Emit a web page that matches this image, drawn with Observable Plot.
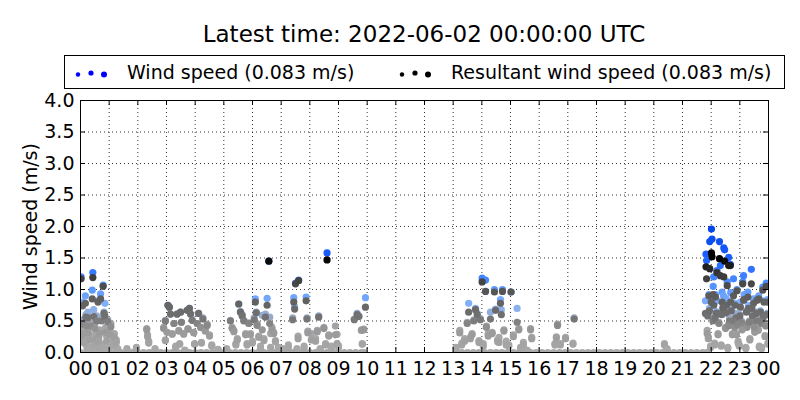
<!DOCTYPE html>
<html>
<head>
<meta charset="utf-8">
<script src="https://cdn.jsdelivr.net/npm/d3@7"></script>
<script src="https://cdn.jsdelivr.net/npm/@observablehq/plot@0.6"></script>
<style>
  body { margin: 0; background: #fff; font-family: "DejaVu Sans", sans-serif; color: #000; }
  #wrap { position: relative; width: 800px; height: 400px; overflow: hidden; }
  #title { position: absolute; left: 0; top: 20px; width: 848px; text-align: center; font-size: 23px; line-height: 28px; z-index: 2; }
  #legend { position: absolute; left: 64px; top: 55px; width: 719px; height: 32px; border: 1px solid #000; background: #fff; z-index: 2; }
  #legend .lab { position: absolute; top: 5px; font-size: 19px; line-height: 22px; white-space: nowrap; }
  #legend svg { position: absolute; top: 0; }
  #chart { position: absolute; left: 0; top: 75px; z-index: 1; }
</style>
</head>
<body>
<div id="wrap">
  <div id="title">Latest time: 2022-06-02 00:00:00 UTC</div>
  <div id="legend"></div>
  <div id="chart"></div>
</div>
<script>
// hour of day, wind speed and resultant wind speed (m/s), one entry per sample
const hours = [
  0.02, 0.05, 0.07, 0.09, 0.11, 0.13, 0.17, 0.19, 0.21, 0.23,
  0.26, 0.28, 0.31, 0.33, 0.36, 0.41, 0.43, 0.46, 0.48, 0.50,
  0.53, 0.56, 0.58, 0.61, 0.64, 0.67, 0.70, 0.73, 0.76, 0.79,
  0.82, 0.85, 0.88, 0.91, 0.95, 0.98, 1.02, 1.06, 1.12, 1.18,
  1.25, 1.30, 1.62, 1.95, 2.31, 2.34, 2.38, 2.60, 2.90, 2.96,
  2.96, 3.02, 3.05, 3.10, 3.14, 3.20, 3.26, 3.32, 3.37, 3.43,
  3.46, 3.49, 3.52, 3.60, 3.64, 3.72, 3.75, 3.80, 3.84, 3.90,
  3.95, 3.98, 4.07, 4.12, 4.19, 4.22, 4.27, 4.35, 4.42, 4.50,
  4.58, 4.80, 5.10, 5.23, 5.29, 5.35, 5.42, 5.47, 5.52, 5.58,
  5.64, 5.70, 5.76, 5.81, 5.87, 5.93, 6.00, 6.06, 6.10, 6.13,
  6.16, 6.22, 6.28, 6.34, 6.40, 6.45, 6.51, 6.57, 6.60, 6.63,
  6.68, 6.74, 6.80, 6.90, 7.05, 7.25, 7.40, 7.44, 7.47, 7.50,
  7.55, 7.59, 7.61, 7.80, 7.87, 7.90, 7.93, 8.05, 8.20, 8.26,
  8.31, 8.36, 8.49, 8.55, 8.60, 8.66, 8.75, 8.89, 8.95, 9.00,
  9.55, 9.65, 9.71, 9.80, 9.83, 9.88, 9.94, 13.10, 13.23, 13.30,
  13.40, 13.49, 13.54, 13.60, 13.66, 13.72, 13.78, 13.84, 13.90, 13.95,
  14.01, 14.05, 14.13, 14.16, 14.22, 14.30, 14.36, 14.44, 14.48, 14.55,
  14.60, 14.65, 14.68, 14.72, 14.77, 14.85, 14.94, 15.02, 15.10, 15.23,
  15.29, 15.35, 15.45, 15.58, 15.70, 15.74, 16.55, 16.60, 16.64, 16.74,
  16.92, 17.18, 17.22, 20.37, 20.46, 21.80, 21.82, 21.84, 21.86, 21.88,
  21.90, 21.92, 21.95, 21.98, 22.01, 22.03, 22.06, 22.09, 22.12, 22.15,
  22.18, 22.20, 22.24, 22.29, 22.32, 22.35, 22.38, 22.41, 22.44, 22.47,
  22.50, 22.53, 22.56, 22.58, 22.61, 22.64, 22.67, 22.70, 22.74, 22.78,
  22.82, 22.86, 22.90, 22.94, 22.98, 23.02, 23.06, 23.10, 23.13, 23.17,
  23.21, 23.25, 23.30, 23.35, 23.40, 23.44, 23.48, 23.52, 23.56, 23.60,
  23.64, 23.68, 23.72, 23.76, 23.80, 23.84, 23.88, 23.92, 23.95, 23.98,
  21.94, 22.00, 22.07, 22.14, 22.22, 22.27, 22.37, 22.43, 22.52, 22.60,
  22.68, 22.76, 22.84, 22.92, 23.00, 23.08, 23.15, 23.23, 23.33, 23.42,
  23.50, 23.58, 23.66, 23.74, 23.82, 23.90, 23.97, 22.88, 23.28, 23.70
];
const windSpeed = [
  1.20, 0.30, 0.80, 0.52, 0.36, 0.20, 0.90, 0.60, 0.48, 0.10,
  0.64, 0.40, 0.26, 0.08, 0.46, 0.99, 1.27, 0.68, 0.14, 0.44,
  0.30, 0.58, 0.16, 0.82, 0.24, 0.36, 0.93, 0.55, 0.12, 1.07,
  0.64, 0.78, 0.40, 0.26, 0.52, 0.08, 0.34, 0.46, 0.18, 0.30,
  0.20, 0.06, 0.06, 0.08, 0.38, 0.28, 0.18, 0.06, 0.40, 0.51,
  0.20, 0.32, 0.75, 0.72, 0.61, 0.30, 0.46, 0.10, 0.61, 0.35,
  0.14, 0.64, 0.48, 0.30, 0.04, 0.67, 0.38, 0.70, 0.61, 0.51,
  0.32, 0.14, 0.46, 0.62, 0.40, 0.16, 0.55, 0.35, 0.45, 0.28,
  0.12, 0.05, 0.06, 0.51, 0.40, 0.35, 0.14, 0.22, 0.77, 0.65,
  0.60, 0.51, 0.30, 0.14, 0.47, 0.30, 0.18, 0.55, 0.85, 0.64,
  0.46, 0.26, 0.10, 0.59, 0.22, 0.61, 0.86, 1.45, 0.56, 0.30,
  0.40, 0.32, 0.19, 0.08, 0.06, 0.12, 0.55, 0.87, 0.73, 1.10,
  0.06, 0.26, 1.15, 0.10, 0.88, 0.55, 0.34, 0.30, 0.22, 0.35,
  0.58, 0.06, 0.40, 0.14, 1.58, 0.28, 0.10, 0.42, 0.29, 0.11,
  0.53, 0.62, 0.58, 0.36, 0.14, 0.37, 0.87, 0.08, 0.35, 0.15,
  0.22, 0.48, 0.78, 0.24, 0.30, 0.52, 0.70, 0.62, 0.19, 0.54,
  1.18, 0.14, 1.15, 0.42, 0.30, 0.64, 0.32, 1.00, 0.69, 0.20,
  0.24, 0.84, 0.68, 1.00, 0.36, 0.18, 0.12, 0.96, 0.28, 0.70,
  0.38, 0.08, 0.16, 0.04, 0.38, 0.24, 0.14, 0.25, 0.45, 0.14,
  0.24, 0.15, 0.55, 0.14, 0.06, 0.82, 1.56, 1.46, 0.35, 0.60,
  0.25, 0.92, 1.76, 0.10, 1.96, 1.80, 0.55, 1.20, 0.15, 0.92,
  0.65, 1.30, 0.30, 1.76, 1.38, 0.12, 0.96, 0.72, 1.66, 1.63,
  0.40, 0.85, 1.12, 0.08, 1.51, 0.55, 1.40, 0.69, 0.30, 1.17,
  0.42, 0.62, 1.00, 0.18, 0.12, 0.80, 0.50, 1.12, 1.22, 0.45,
  0.08, 0.42, 0.75, 0.22, 1.32, 0.60, 0.85, 0.34, 0.52, 0.86,
  0.37, 0.10, 0.66, 0.08, 1.04, 0.82, 0.27, 1.10, 0.62, 0.15,
  0.70, 0.88, 1.05, 0.58, 0.82, 0.48, 0.62, 0.90, 0.66, 0.44,
  0.95, 0.52, 0.78, 0.46, 0.60, 0.38, 0.92, 0.66, 0.50, 0.74,
  0.42, 0.64, 0.90, 0.48, 0.58, 0.44, 0.84, 0.30, 0.96, 0.52
];
const resultantSpeed = [
  1.17, 0.26, 0.74, 0.45, 0.30, 0.15, 0.78, 0.56, 0.42, 0.06,
  0.55, 0.31, 0.20, 0.05, 0.42, 0.85, 1.19, 0.57, 0.10, 0.38,
  0.22, 0.50, 0.08, 0.80, 0.18, 0.30, 0.85, 0.50, 0.06, 1.05,
  0.62, 0.58, 0.32, 0.18, 0.49, 0.04, 0.28, 0.41, 0.10, 0.24,
  0.16, 0.03, 0.04, 0.06, 0.36, 0.25, 0.15, 0.04, 0.38, 0.50,
  0.19, 0.32, 0.75, 0.72, 0.61, 0.29, 0.46, 0.08, 0.61, 0.34,
  0.13, 0.64, 0.48, 0.29, 0.03, 0.67, 0.37, 0.70, 0.61, 0.51,
  0.31, 0.13, 0.46, 0.62, 0.40, 0.15, 0.53, 0.34, 0.43, 0.26,
  0.10, 0.03, 0.04, 0.50, 0.38, 0.33, 0.12, 0.20, 0.77, 0.64,
  0.58, 0.50, 0.28, 0.12, 0.46, 0.28, 0.15, 0.52, 0.80, 0.63,
  0.43, 0.24, 0.06, 0.36, 0.19, 0.56, 0.75, 1.45, 0.46, 0.08,
  0.36, 0.30, 0.17, 0.05, 0.04, 0.08, 0.52, 0.80, 0.69, 1.09,
  0.04, 0.22, 1.14, 0.06, 0.82, 0.53, 0.31, 0.20, 0.18, 0.33,
  0.56, 0.04, 0.38, 0.12, 1.47, 0.26, 0.05, 0.28, 0.14, 0.08,
  0.52, 0.60, 0.57, 0.35, 0.13, 0.36, 0.72, 0.06, 0.31, 0.12,
  0.18, 0.46, 0.64, 0.22, 0.28, 0.50, 0.68, 0.60, 0.16, 0.52,
  1.12, 0.10, 0.97, 0.40, 0.26, 0.53, 0.30, 0.96, 0.67, 0.17,
  0.16, 0.78, 0.60, 0.97, 0.34, 0.12, 0.10, 0.96, 0.25, 0.48,
  0.36, 0.06, 0.12, 0.03, 0.36, 0.22, 0.12, 0.23, 0.43, 0.12,
  0.22, 0.13, 0.53, 0.12, 0.05, 0.62, 1.36, 1.17, 0.30, 0.58,
  0.22, 0.90, 1.33, 0.08, 1.58, 1.52, 0.50, 0.75, 0.12, 0.88,
  0.62, 1.27, 0.28, 1.49, 1.22, 0.10, 0.80, 0.70, 1.20, 1.45,
  0.38, 0.75, 1.06, 0.06, 1.38, 0.50, 1.38, 0.66, 0.28, 0.90,
  0.40, 0.55, 0.98, 0.15, 0.10, 0.72, 0.47, 1.09, 0.83, 0.42,
  0.06, 0.40, 0.70, 0.20, 1.09, 0.58, 0.78, 0.32, 0.50, 0.83,
  0.35, 0.08, 0.64, 0.06, 0.99, 0.80, 0.25, 1.05, 0.60, 0.13,
  0.66, 0.80, 0.92, 0.55, 0.62, 0.46, 0.60, 0.72, 0.63, 0.42,
  0.80, 0.50, 0.75, 0.44, 0.58, 0.36, 0.84, 0.64, 0.48, 0.70,
  0.40, 0.62, 0.85, 0.46, 0.56, 0.42, 0.80, 0.28, 0.88, 0.50
];
// samples where both speeds were 0 (calm)
const calmHours = [
  0, 0.2, 0.4, 0.6, 0.8, 1, 1.2, 1.4, 1.6, 1.8, 2, 2.2, 2.4, 2.6, 2.8,
  3, 3.2, 3.4, 3.6, 3.8, 4, 4.2, 4.4, 4.6, 4.8, 5, 5.2, 5.4, 5.6, 5.8,
  6, 6.2, 6.4, 6.6, 6.8, 7, 7.2, 7.4, 7.6, 7.8, 8, 8.2, 8.4, 8.6, 8.8,
  9, 9.2, 9.4, 9.6, 9.8, 9.9,
  13.1, 13.3, 13.5, 13.7, 13.9, 14.1, 14.3, 14.5, 14.7, 14.9, 15.1, 15.3,
  15.5, 15.7, 15.9, 16.1, 16.3, 16.5, 16.7, 16.9, 17.1, 17.3, 17.5, 17.7,
  17.9, 18.1, 18.3, 18.5, 18.7, 18.9, 19.1, 19.3, 19.5, 19.7, 19.9, 20.1,
  20.3, 20.5, 20.7, 20.9, 21.1, 21.3, 21.5, 21.7, 21.85
];
const xTicks = [0, 1, 2, 3, 4, 5, 6, 7, 8, 9, 10, 11, 12, 13, 14, 15, 16, 17, 18, 19, 20, 21, 22, 23, 24];
const yTicks = [0, 0.5, 1, 1.5, 2, 2.5, 3, 3.5, 4];
const seriesLabels = ["Wind speed (0.083 m/s)", "Resultant wind speed (0.083 m/s)"];
const seriesColors = ["#0000ff", "#000000"];

// low speeds fade to grey, high speeds go to full series colour
const windColor = d3.scaleLinear()
  .domain([0, 0.45, 0.75, 1.1, 1.5, 2.0])
  .range(["#aaaaaa", "#a2a4a9", "#86b3fb", "#4c8dff", "#1c60ff", "#0043e8"])
  .clamp(true);
const resColor = d3.scaleLinear()
  .domain([0, 0.35, 0.55, 0.9, 1.25, 1.5])
  .range(["#aaaaaa", "#999999", "#727272", "#5c5c5c", "#383838", "#000000"])
  .clamp(true);

const calm = calmHours.map(h => ({hour: h, speed: 0}));
const wind = hours.map((h, i) => ({hour: h, speed: windSpeed[i]}));
const resultant = hours.map((h, i) => ({hour: h, speed: resultantSpeed[i]}));

// legend
const legend = d3.select("#legend");
const legendX = [[13, 62], [337, 386]];
seriesLabels.forEach((lab, k) => {
  const s = legend.append("svg").attr("width", 60).attr("height", 32).style("left", (legendX[k][0] - 6) + "px");
  [[6, 18.5, 2.2], [19, 17, 2.6], [32, 18.5, 3]].forEach(([cx, cy, r]) =>
    s.append("circle").attr("cx", cx).attr("cy", cy).attr("r", r).attr("fill", seriesColors[k]));
  legend.append("span").attr("class", "lab").style("left", legendX[k][1] + "px").text(lab);
});

const chart = Plot.plot({
  width: 800,
  height: 325,
  marginTop: 25,
  marginBottom: 48,
  marginLeft: 80,
  marginRight: 32,
  style: {fontFamily: "DejaVu Sans, sans-serif", fontSize: "19px", color: "#000", background: "transparent"},
  color: {type: "identity"},
  x: {domain: [0, 24], ticks: xTicks, tickFormat: d => String(d % 24).padStart(2, "0"), tickSize: 0, tickPadding: 9, label: null},
  y: {domain: [0, 4], ticks: yTicks, tickFormat: d3.format(".1f"), tickSize: 0, tickPadding: 6, label: null},
  marks: [
    Plot.ruleX(xTicks, {x: d => d, stroke: "#000", strokeWidth: 0.8, strokeDasharray: "1,3"}),
    Plot.ruleY(yTicks, {y: d => d, stroke: "#000", strokeWidth: 0.8, strokeDasharray: "1,3"}),
    Plot.dot(calm, {x: "hour", y: "speed", r: 3.6, fill: "#aaaaaa", clip: true}),
    Plot.dot(wind, {x: "hour", y: "speed", r: 3.6, fill: d => windColor(d.speed), clip: true}),
    Plot.dot(resultant, {x: "hour", y: "speed", r: 3.6, fill: d => resColor(d.speed), clip: true}),
    Plot.tickX(xTicks, {x: d => d, insetTop: 247, stroke: "#000"}),
    Plot.tickX(xTicks, {x: d => d, insetBottom: 247, stroke: "#000"}),
    Plot.tickY(yTicks, {y: d => d, insetRight: 683, stroke: "#000"}),
    Plot.tickY(yTicks, {y: d => d, insetLeft: 683, stroke: "#000"}),
    Plot.frame({stroke: "#000", strokeWidth: 1}),
    Plot.text(["Wind speed (m/s)"], {text: d => d, frameAnchor: "left", textAnchor: "middle", dx: -50, rotate: -90, fontSize: 19})
  ]
});

d3.select("#chart").append(() => chart);
</script>
</body>
</html>
